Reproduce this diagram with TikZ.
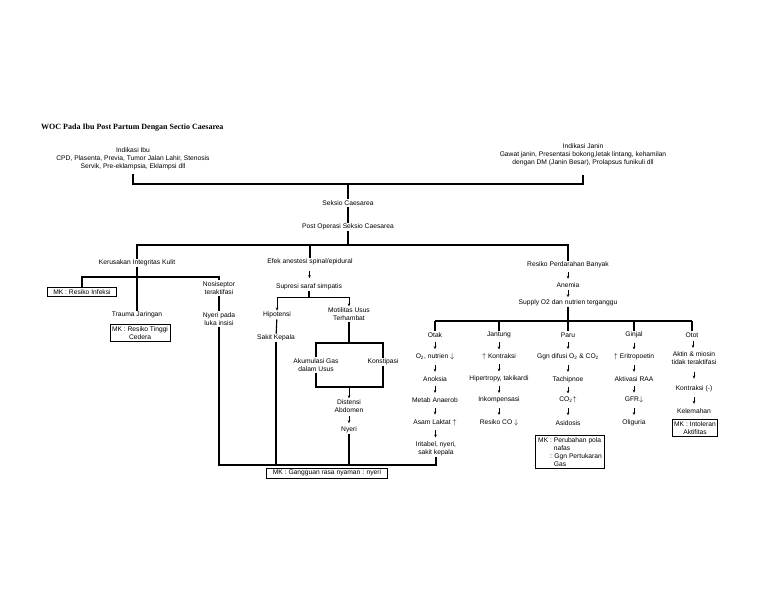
\documentclass[tikz,border=0pt]{standalone}
\usepackage{fontspec}
\setmainfont{Liberation Sans}
\newfontfamily\titlefont{Liberation Serif}
\usetikzlibrary{arrows.meta}

\newcommand{\kecil}{\fontsize{6.7}{8}\selectfont}
% short arrow between two stacked nodes
\newcommand{\panah}[2]{%
  \path (#1.south) -- (#2.north) coordinate[midway] (tengah);
  \draw[arr] ([yshift=3.5pt]tengah) -- ([yshift=-3.5pt]tengah);}

\begin{document}
\begin{tikzpicture}[x=1pt,y=-1pt,
    judul/.style={anchor=west, inner sep=0pt, font=\titlefont\bfseries\fontsize{8}{10}\selectfont},
    txt/.style={font=\kecil, align=center, inner sep=1pt},
    mk/.style={txt, draw, line width=0.9pt, inner xsep=2pt, inner ysep=2pt},
    ln/.style={line width=1.1pt},
    arr/.style={-{Stealth[length=3pt,width=2.6pt]}, line width=0.6pt}]
  \useasboundingbox (0,0) rectangle (768,594);
  % Title
  \node[judul] (title) at (41,128) {WOC Pada Ibu Post Partum Dengan Sectio Caesarea};
  % Indikasi
  \node[txt] (ibu) at (133,159) {Indikasi Ibu\\CPD, Plasenta, Previa, Tumor Jalan Lahir, Stenosis\\Servik, Pre-eklampsia, Eklampsi dll};
  \node[txt] (janin) at (583,155) {Indikasi Janin\\Gawat janin, Presentasi bokong,letak lintang, kehamilan\\dengan DM (Janin Besar), Prolapsus funikuli dll};
  \coordinate (atas) at (348,184);
  \draw[ln] ([yshift=-3pt]ibu.south) |- (atas) -| ([yshift=-8pt]janin.south);
  \node[txt] (seksio) at (348,203) {Seksio Caesarea};
  \node[txt] (postop) at (348,227) {Post Operasi Seksio Caesarea};
  \draw[ln] (atas) -- (seksio);
  \draw[ln] (seksio) -- (postop);
  \coordinate (cabang) at (348,245);
  \draw[ln] (postop) -- (cabang);
  \node[txt] (kulit) at (137,263) {Kerusakan Integritas Kulit};
  \node[txt] (efek) at (310,262) {Efek anestesi spinal/epidural};
  \node[txt] (darah) at (568,265) {Resiko Perdarahan Banyak};
  \draw[ln] (kulit) |- (cabang) -| (darah);
  \draw[ln] (efek) -- (efek |- cabang);

  % Kerusakan integritas kulit
  \node[txt] (trauma) at (137,315) {Trauma Jaringan};
  \draw[ln] (kulit) -- (trauma);
  \coordinate (k1) at (137,277);
  \node[mk, inner xsep=6pt] (infeksi) at (82,292) {MK : Resiko Infeksi};
  \node[txt] (nosi) at (219,288) {Nosiseptor\\teraktifasi};
  \draw[ln] (infeksi) |- (k1) -| (nosi);
  \node[txt] (nyeriluka) at (219,319) {Nyeri pada\\luka insisi};
  \draw[ln] (nosi) -- (nyeriluka);
  \node[mk] (cedera) at (140,333) {MK : Resiko Tinggi\\Cedera};

  % Efek anestesi
  \node[txt] (supresi) at (309,287) {Supresi saraf simpatis};
  \panah{efek}{supresi}
  \coordinate (s1) at (309,297);
  \node[txt] (hipo) at (277,315) {Hipotensi};
  \node[txt] (motil) at (349,314) {Motilitas Usus\\Terhambat};
  \draw[ln] (supresi) -- (s1);
  \draw[arr] (s1) -| (hipo);
  \draw[arr] (s1) -| (motil);
  \node[txt] (sakit) at (276,338) {Sakit Kepala};
  \draw[ln] (hipo) -- (sakit);
  \coordinate (m1) at (349,343);
  \node[txt] (akum) at (316,365) {Akumulasi Gas\\dalam Usus};
  \node[txt] (konst) at (383,362) {Konstipasi};
  \draw[ln] (motil) -- (m1);
  \draw[ln] (akum) |- (m1) -| (konst);
  \coordinate (m2) at (349,387);
  \draw[ln] (akum) |- (m2) -| (konst);
  \node[txt] (distensi) at (349,406) {Distensi\\Abdomen};
  \draw[arr] (m2) -- (distensi);
  \node[txt] (nyeri) at (349,430) {Nyeri};
  \panah{distensi}{nyeri}

  % Resiko perdarahan
  \node[txt] (anemia) at (568,285) {Anemia};
  \node[txt] (supply) at (568,303) {Supply O2 dan nutrien terganggu};
  \panah{darah}{anemia}
  \panah{anemia}{supply}
  \coordinate (r1) at (568,321);
  \draw[ln] (supply) -- (r1);

  % Otak
  \node[txt] (otak0) at (435,335) {Otak};
  \node[txt] (otak1) at (435,357) {O\textsubscript{2}, nutrien $\downarrow$};
  \node[txt] (otak2) at (435,379) {Anoksia};
  \node[txt] (otak3) at (435,400) {Metab Anaerob};
  \node[txt] (otak4) at (435,423) {Asam Laktat $\uparrow$};
  \node[txt] (otak5) at (436,449) {Iritabel, nyeri,\\sakit kepala};
  % Jantung
  \node[txt] (jan0) at (499,335) {Jantung};
  \node[txt] (jan1) at (499,357) {$\uparrow$ Kontraksi};
  \node[txt] (jan2) at (499,379) {Hipertropy, takikardi};
  \node[txt] (jan3) at (499,400) {Inkompensasi};
  \node[txt] (jan4) at (499,423) {Resiko CO $\downarrow$};
  % Paru
  \node[txt] (paru0) at (568,335) {Paru};
  \node[txt] (paru1) at (568,357) {Ggn difusi O\textsubscript{2} \& CO\textsubscript{2}};
  \node[txt] (paru2) at (568,380) {Tachipnoe};
  \node[txt] (paru3) at (568,400) {CO\textsubscript{2}$\uparrow$};
  \node[txt] (paru4) at (568,423) {Asidosis};
  \node[mk, align=left, inner xsep=3pt] (mkparu) at (570,452) {MK : Perubahan pola\\\phantom{MK : }nafas\\\phantom{MK }: Ggn Pertukaran\\\phantom{MK : }Gas};
  % Ginjal
  \node[txt] (gin0) at (634,335) {Ginjal};
  \node[txt] (gin1) at (634,357) {$\uparrow$ Eritropoetin};
  \node[txt] (gin2) at (634,379) {Aktivasi RAA};
  \node[txt] (gin3) at (634,400) {GFR$\downarrow$};
  \node[txt] (gin4) at (634,423) {Oliguria};
  % Otot
  \node[txt] (oto0) at (692,335) {Otot};
  \node[txt] (oto1) at (694,358) {Aktin \& miosin\\tidak teraktifasi};
  \node[txt] (oto2) at (694,389) {Kontraksi (-)};
  \node[txt] (oto3) at (694,411) {Kelemahan};
  \node[mk] (mkotot) at (695,428) {MK : Intoleran\\Aktifitas};

  \draw[ln] (otak0 |- r1) -- (oto0 |- r1);
  \foreach \k in {otak0,jan0,paru0,gin0,oto0}
    \draw[ln] (\k |- r1) -- (\k);
  \foreach \k in {otak,jan,paru,gin}
    \foreach \i/\j in {0/1,1/2,2/3,3/4}
      {\panah{\k\i}{\k\j}}
  \panah{otak4}{otak5}
  \foreach \i/\j in {0/1,1/2,2/3}
    {\panah{oto\i}{oto\j}}

  % Nyeri bawah
  \coordinate (bawah) at (327,465);
  \draw[ln] (nyeriluka) |- (bawah) -| (otak5);
  \draw[ln] (sakit) -- (sakit |- bawah);
  \draw[ln] (nyeri) -- (nyeri |- bawah);
  \node[mk, inner xsep=6pt, anchor=north] (mknyeri) at (327,467.5) {MK : Gangguan rasa nyaman : nyeri};
\end{tikzpicture}
\end{document}
